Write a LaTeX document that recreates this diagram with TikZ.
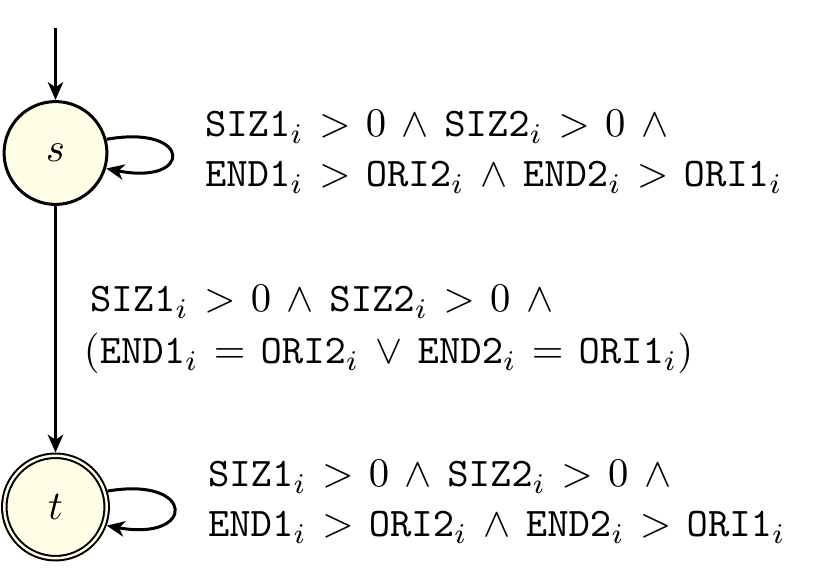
\documentclass[tikz,border=0pt]{standalone}
\usetikzlibrary{arrows.meta}
\begin{document}
\begin{tikzpicture}[x=0.246pt,y=-0.246pt,
  every node/.style={inner sep=0pt,outer sep=0pt},
  stateblob/.style={circle,draw,line width=0.74pt,fill=yellow!10,
    minimum size=25.3pt,inner sep=0pt,outer sep=0.4pt},
  acceptblob/.style={circle,draw,line width=0.5pt,double=yellow!10,
    double distance=0.6pt,fill=yellow!10,minimum size=25.2pt,inner sep=0pt,outer sep=0.8pt},
  trans/.style={line width=0.74pt,-{Stealth[length=4.4pt,width=3.8pt,inset=1.3pt]}},
  guard/.style={anchor=base west,align=left,font=\normalsize,
    execute at begin node={\thickmuskip=6.7mu\medmuskip=6.9mu}}]
  \useasboundingbox (0,0) rectangle (820,571);

  % states
  \node[stateblob] (s) at (55.5,153) {$s$};
  \node[acceptblob] (t) at (55.5,507) {$t$};
  \coordinate (init) at (55.5,28);

  % transitions
  \draw[trans] (init) -- (s);
  \draw[trans] (s) -- (t);
  \draw[trans] (s.15) .. controls (193,124) and (193,186) .. (s.-17);
  \draw[trans] (t.17) .. controls (196,476) and (196,542) .. (t.-20);

  % guards (anchored at the baseline of their last line)
  \node[guard] (gs) at (205,187)
    {$\mathtt{SIZ1}_i > 0 \wedge \mathtt{SIZ2}_i > 0 \wedge{}$\\[0.3pt]
     $\mathtt{END1}_i > \mathtt{ORI2}_i \wedge \mathtt{END2}_i > \mathtt{ORI1}_i$};
  \node[guard] (gm) at (84,364)
    {\hspace{1.5pt}$\mathtt{SIZ1}_i > 0 \wedge \mathtt{SIZ2}_i > 0 \wedge{}$\\[0.8pt]
     $(\mathtt{END1}_i = \mathtt{ORI2}_i \vee \mathtt{END2}_i = \mathtt{ORI1}_i)$};
  \node[guard] (gt) at (208,537)
    {$\mathtt{SIZ1}_i > 0 \wedge \mathtt{SIZ2}_i > 0 \wedge{}$\\[0.3pt]
     $\mathtt{END1}_i > \mathtt{ORI2}_i \wedge \mathtt{END2}_i > \mathtt{ORI1}_i$};
\end{tikzpicture}
\end{document}
